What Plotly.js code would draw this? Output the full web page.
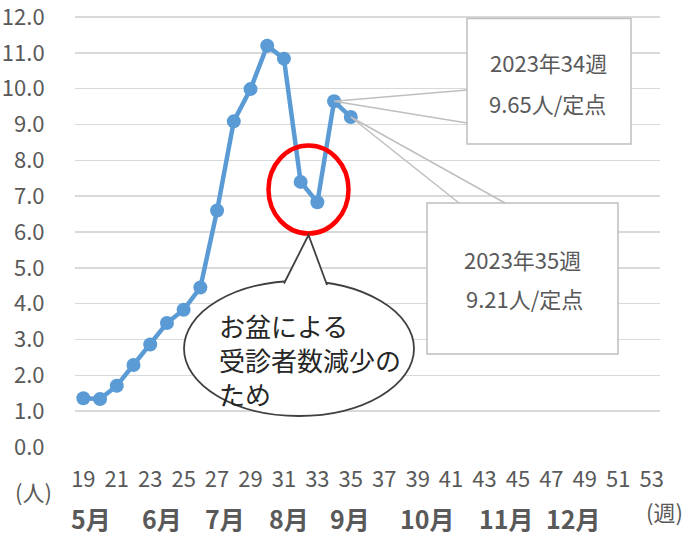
<!DOCTYPE html>
<html><head><meta charset="utf-8">
<script src="https://cdn.plot.ly/plotly-3.0.1.min.js"></script>
<style>html,body{margin:0;padding:0;background:#fff;}#chart{width:685px;height:536px;}</style>
</head><body><div id="chart"></div>
<script>
// ---- data ----
const weeks = [19,20,21,22,23,24,25,26,27,28,29,30,31,32,33,34,35];
const perSite = [1.36,1.34,1.71,2.29,2.86,3.46,3.83,4.45,6.60,9.09,9.99,11.20,10.84,7.40,6.83,9.65,9.21];
const xTickVals = [19,21,23,25,27,29,31,33,35,37,39,41,43,45,47,49,51,53];
const yTickVals = [0,1,2,3,4,5,6,7,8,9,10,11,12];
const months = ['5月','6月','7月','8月','9月','10月','11月','12月'];
const bubbleLines = ['お盆による','受診者数減少の','ため'];
const calloutYear = '2023';

// ---- geometry helpers (pixel -> axis/paper) ----
const W=685,H=536, mL=75, mR=25, mT=16, mB=89;
const pw=W-mL-mR, ph=H-mT-mB;
const xr=[18.5,53.5], yr=[0,12.03];
const px2x = p => xr[0] + (p-mL)*(xr[1]-xr[0])/pw;
const py2y = p => yr[0] + (H-mB-p)*(yr[1]-yr[0])/ph;
const pxp = p => (p-mL)/pw;
const pyp = p => (H-mB-p)/ph;

const gray='#595959';
const FONT='"Noto Sans CJK JP", "Noto Sans", sans-serif';

const i34 = weeks.indexOf(34), i35 = weeks.indexOf(35);

const shapes = [];
const ann = [];

// red circle
shapes.push({type:'circle', xref:'x', yref:'y', x0:px2x(268.5), x1:px2x(348.5), y0:py2y(145.5), y1:py2y(233.5),
  line:{color:'#FF0000', width:4.5}, layer:'above'});

// speech bubble
shapes.push({type:'circle', xref:'x', yref:'y', x0:px2x(184), x1:px2x(414), y0:py2y(281), y1:py2y(416),
  line:{color:'#404040', width:1.8}, fillcolor:'#FFFFFF', layer:'above'});
const ax=px2x(308.5), ay=py2y(235), lx=px2x(284), ly=py2y(283.5), rx=px2x(327), ry=py2y(285);
shapes.push({type:'path', xref:'x', yref:'y',
  path:`M ${lx} ${ly} L ${ax} ${ay} L ${rx} ${ry} L ${px2x(326)} ${py2y(292)} L ${px2x(285)} ${py2y(292)} Z`,
  line:{width:0}, fillcolor:'#FFFFFF', layer:'above'});
shapes.push({type:'path', xref:'x', yref:'y',
  path:`M ${lx} ${ly} L ${ax} ${ay} L ${rx} ${ry}`,
  line:{color:'#404040', width:1.8}, layer:'above'});

// callout box 34
const boxLine={color:'#BFBFBF', width:1.5};
shapes.push({type:'rect', xref:'x', yref:'y', x0:px2x(467), x1:px2x(631), y0:py2y(18.5), y1:py2y(144),
  line:boxLine, fillcolor:'#FFFFFF', layer:'above'});
shapes.push({type:'path', xref:'x', yref:'y',
  path:`M ${px2x(467)} ${py2y(90)} L ${weeks[i34]} ${perSite[i34]} L ${px2x(467)} ${py2y(123)}`,
  line:boxLine, layer:'above'});
// callout box 35
shapes.push({type:'rect', xref:'x', yref:'y', x0:px2x(427), x1:px2x(618), y0:py2y(203), y1:py2y(354),
  line:boxLine, fillcolor:'#FFFFFF', layer:'above'});
shapes.push({type:'path', xref:'x', yref:'y',
  path:`M ${px2x(459)} ${py2y(203)} L ${weeks[i35]} ${perSite[i35]} L ${px2x(505)} ${py2y(203)}`,
  line:boxLine, layer:'above'});

function txt(text, x, y, size, color, opts){
  return Object.assign({text, xref:'paper', yref:'paper', x:pxp(x), y:pyp(y), xanchor:'center', yanchor:'middle',
    showarrow:false, font:{family:FONT, size, color}}, opts||{});
}
ann.push(txt(`${calloutYear}年${weeks[i34]}週`, 548, 62, 22, gray));
ann.push(txt(`${perSite[i34].toFixed(2)}人/定点`, 547, 103, 22, gray));
ann.push(txt(`${calloutYear}年${weeks[i35]}週`, 522, 259, 22, gray));
ann.push(txt(`${perSite[i35].toFixed(2)}人/定点`, 524, 298, 22, gray));
ann.push(txt(bubbleLines.join('<br>'), 217, 359.5, 26, '#262626', {xanchor:'left', align:'left'}));

const monthX=[91,162,225,289,350,427,506,573];
months.forEach((m,i)=>ann.push(txt(m, monthX[i], 518, 25, gray, {font:{family:FONT,size:25,color:gray,weight:'bold'}})));
ann.push(txt('(人)', 33, 491, 22, gray));
ann.push(txt('(週)', 664, 511, 22, gray));

const trace = {x:weeks, y:perSite, type:'scatter', mode:'lines+markers',
  line:{color:'#5B9BD5', width:4.5}, marker:{color:'#5B9BD5', size:14}, hoverinfo:'skip', cliponaxis:false};

const layout = {
  width:W, height:H, margin:{l:mL, r:mR, t:mT, b:mB},
  paper_bgcolor:'#fff', plot_bgcolor:'#fff', showlegend:false,
  xaxis:{range:xr, tickmode:'array', tickvals:xTickVals, ticktext:xTickVals.map(String), showgrid:false, zeroline:false, showline:false,
    ticks:'outside', ticklen:13, tickcolor:'rgba(0,0,0,0)', tickfont:{family:FONT, size:22, color:gray}, fixedrange:true,
    ticklabeloverflow:'allow'},
  yaxis:{range:yr, tickmode:'array', tickvals:yTickVals, ticktext:yTickVals.map(v=>v.toFixed(1)), showgrid:true, gridcolor:'#D9D9D9', gridwidth:1.5, zeroline:false, showline:false,
    ticks:'outside', ticklen:25, tickcolor:'rgba(0,0,0,0)', tickfont:{family:FONT, size:22, color:gray}, fixedrange:true,
    ticklabeloverflow:'allow'},
  shapes, annotations:ann
};
Plotly.newPlot('chart',[trace],layout,{displayModeBar:false, staticPlot:true});
</script></body></html>
